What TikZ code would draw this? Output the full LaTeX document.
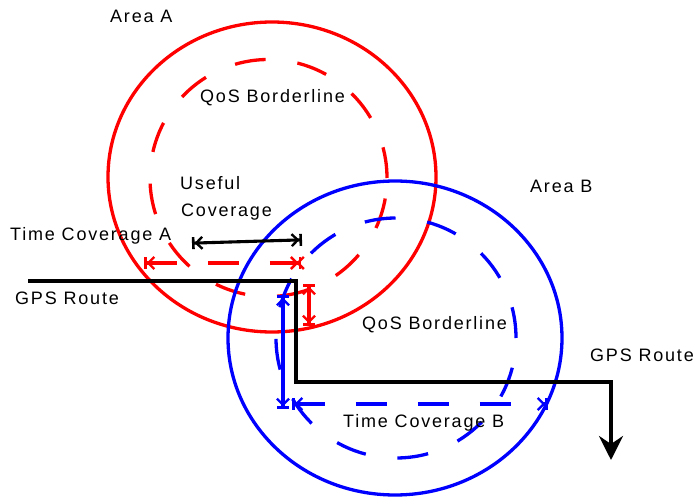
\documentclass[tikz,border=0pt]{standalone}
\usepackage{fontspec}
\setmainfont{Liberation Sans}[LetterSpace=10]
\usetikzlibrary{arrows.meta,shapes.geometric}

\tikzset{
  % cross-bar end mark used on every coverage span
  xtip/.tip={Straight Barb[length=6pt,width=12pt,line width=2.4pt] Bar[width=12pt,line width=2.6pt,sep=-5pt]},
  % end mark that meets a span coming from the other side
  xxtip/.tip={Straight Barb[length=6pt,width=12pt,line width=2.4pt] Bar[width=12pt,line width=2.6pt,sep=-5pt] Straight Barb[reversed,length=6pt,width=12pt,line width=2.4pt]},
}

\begin{document}
\begin{tikzpicture}[x=1pt,y=-1pt,
  area/.style={draw, line width=3.3pt, ellipse, inner sep=0pt},
  qos/.style={draw, line width=3.3pt, circle, inner sep=0pt, dash pattern=on 31pt off 32pt},
  route/.style={line width=3.4pt, black},
  spanline/.style={line width=3.1pt, xtip-xtip},
  dashspan/.style={spanline, dash pattern=on 31pt off 31pt},
  lbl/.style={font=\fontsize{18}{21}\selectfont, text=black, inner sep=0pt, anchor=base west},
]
\useasboundingbox (0,0) rectangle (697,497);

% coverage areas and their QoS borderlines
\node[area, red, minimum width=328pt, minimum height=310pt] (areaA) at (272,177) {};
\node[qos, red, minimum size=237pt] (qosA) at (268.5,178) {};
\node[area, blue, minimum width=334pt, minimum height=314pt] (areaB) at (395,338) {};
\node[qos, blue, minimum size=240pt] (qosB) at (396,338) {};

% GPS route
\coordinate (r0) at (28,281);
\coordinate (r1) at (296,281);
\coordinate (r2) at (296,382);
\coordinate (r3) at (611,382);
\coordinate (r4) at (611,460);
\draw[route, -{Stealth[length=24pt,width=24pt,inset=8pt]}] (r0) -- (r1) -- (r2) -- (r3) -- (r4);

% useful coverage span
\coordinate (u0) at (197,243);
\coordinate (u1) at (297,240);
\draw[spanline, black] (u0) -- (u1);

% time coverage A
\coordinate (ta0) at (149,263);
\coordinate (ta1) at (305,263);
\draw[dashspan, red, xtip-xxtip] (ta0) -- (ta1);
\coordinate (va0) at (309,289);
\coordinate (va1) at (309,321);
\draw[spanline, red] (va0) -- (va1);

% time coverage B
\coordinate (vb0) at (283,300);
\coordinate (vb1) at (283,404);
\draw[spanline, blue] (vb0) -- (vb1);
\coordinate (tb0) at (297,404);
\coordinate (tb1) at (543,404);
\draw[dashspan, blue] (tb0) -- (tb1);

% labels
\node[lbl] (lAreaA) at (110,23) {Area A};
\node[lbl] (lQosA) at (200,103) {QoS Borderline};
\node[lbl] (lUseful) at (180,190) {Useful};
\node[lbl] (lCoverage) at (181,217) {Coverage};
\node[lbl] (lTimeA) at (10,241) {Time Coverage A};
\node[lbl] (lRouteL) at (15,305) {GPS Route};
\node[lbl] (lAreaB) at (530,193) {Area B};
\node[lbl] (lQosB) at (362,330) {QoS Borderline};
\node[lbl, anchor=base east] (lRouteR) at (694,362) {GPS Route};
\node[lbl] (lTimeB) at (343,428) {Time Coverage B};
\end{tikzpicture}
\end{document}
